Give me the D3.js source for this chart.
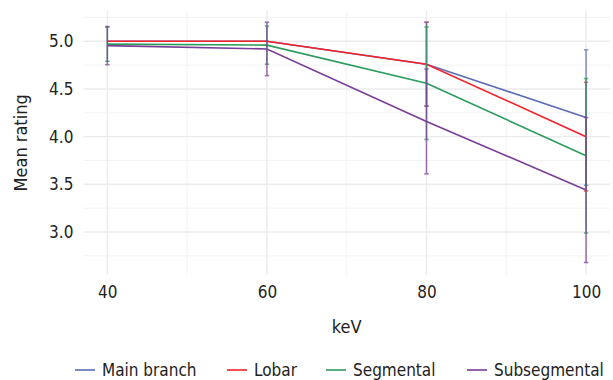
<!DOCTYPE html>
<html>
<head>
<meta charset="utf-8">
<script src="https://cdn.jsdelivr.net/npm/d3@7"></script>
<style>
  body { margin: 0; background: #fff; }
  text { font-family: "DejaVu Sans Condensed", "DejaVu Sans", sans-serif; font-stretch: condensed; fill: #222; }
</style>
</head>
<body>
<script>
// Data
var kev = [40, 60, 80, 100];
var seriesNames = ["Main branch", "Lobar", "Segmental", "Subsegmental"];
var seriesColors = ["#5c6cb8", "#f5222a", "#2b9c5c", "#7a3d98"];
var mainMean = [5.0, 5.0, 4.76, 4.20];
var mainErr = [0, 0, 0.44, 0.71];
var lobarMean = [5.0, 5.0, 4.76, 4.00];
var lobarErr = [0, 0, 0.44, 0.57];
var segMean = [4.97, 4.96, 4.56, 3.80];
var segErr = [0.18, 0.20, 0.59, 0.81];
var subMean = [4.955, 4.92, 4.16, 3.44];
var subErr = [0.20, 0.28, 0.55, 0.76];
var yTicks = [3.0, 3.5, 4.0, 4.5, 5.0];
var yMinor = [2.75, 3.25, 3.75, 4.25, 4.75, 5.25];
var xTicks = [40, 60, 80, 100];
var xMinor = [50, 70, 90];

var means = [mainMean, lobarMean, segMean, subMean];
var errs = [mainErr, lobarErr, segErr, subErr];
// error bars are layered Lobar first, so the blue bar sits on the red one
var errOrder = [1, 0, 2, 3];

var svgWidth = 613, svgHeight = 380;
var svg = d3.select("body").append("svg")
  .attr("width", svgWidth)
  .attr("height", svgHeight);

// scales (panel spans roughly x 83-610, y 11-275)
var x = d3.scaleLinear().domain([37, 103]).range([83.4, 610]);
var y = d3.scaleLinear().domain([2.55, 5.32]).range([274.9, 10.8]);

var grid = svg.append("g");
// minor grid
grid.selectAll(".ymin").data(yMinor).enter().append("line")
  .attr("x1", x(37)).attr("x2", x(103))
  .attr("y1", d => y(d)).attr("y2", d => y(d))
  .attr("stroke", "#f0f0f0").attr("stroke-width", 0.8);
grid.selectAll(".xmin").data(xMinor).enter().append("line")
  .attr("y1", y(2.55)).attr("y2", y(5.32))
  .attr("x1", d => x(d)).attr("x2", d => x(d))
  .attr("stroke", "#f0f0f0").attr("stroke-width", 0.8);
// major grid
grid.selectAll(".ymaj").data(yTicks).enter().append("line")
  .attr("x1", x(37)).attr("x2", x(103))
  .attr("y1", d => y(d)).attr("y2", d => y(d))
  .attr("stroke", "#ebebeb").attr("stroke-width", 1.4);
grid.selectAll(".xmaj").data(xTicks).enter().append("line")
  .attr("y1", y(2.55)).attr("y2", y(5.32))
  .attr("x1", d => x(d)).attr("x2", d => x(d))
  .attr("stroke", "#ebebeb").attr("stroke-width", 1.4);

// axes (labels only, no lines)
var leftAxis = d3.axisLeft(y).tickValues(yTicks).tickFormat(d3.format(".1f")).tickSize(0).tickPadding(10);
var gy = svg.append("g").attr("transform", "translate(" + x(37) + ",0)").call(leftAxis);
gy.select(".domain").remove();
gy.selectAll("text").attr("font-size", "17px").attr("fill", "#222").attr("font-family", null);

var bottomAxis = d3.axisBottom(x).tickValues(xTicks).tickSize(0).tickPadding(11);
var gx = svg.append("g").attr("transform", "translate(0," + y(2.55) + ")").call(bottomAxis);
gx.select(".domain").remove();
gx.selectAll("text").attr("font-size", "17px").attr("fill", "#222").attr("font-family", null);

// lines
var line = d3.line().x((d, i) => x(kev[i])).y(d => y(d));
svg.selectAll(".series").data(means).enter().append("path")
  .attr("d", d => line(d))
  .attr("fill", "none")
  .attr("stroke", (d, i) => seriesColors[i])
  .attr("stroke-width", 1.6);

// error bars
errOrder.forEach(function(s) {
  var m = means[s];
  var g = svg.append("g").attr("stroke", seriesColors[s]).attr("stroke-width", 1.5).attr("opacity", 0.75);
  m.forEach(function(v, i) {
    var e = errs[s][i];
    if (e <= 0) return;
    var cx = x(kev[i]);
    g.append("line").attr("x1", cx).attr("x2", cx).attr("y1", y(v + e)).attr("y2", y(v - e));
    g.append("line").attr("x1", cx - 2.2).attr("x2", cx + 2.2).attr("y1", y(v + e)).attr("y2", y(v + e));
    g.append("line").attr("x1", cx - 2.2).attr("x2", cx + 2.2).attr("y1", y(v - e)).attr("y2", y(v - e));
  });
});

// axis titles
svg.append("text")
  .attr("x", (x(37) + x(103)) / 2).attr("y", 333)
  .attr("text-anchor", "middle").attr("font-size", "18px")
  .text("keV");
svg.append("text")
  .attr("transform", "translate(27," + ((y(2.55) + y(5.32)) / 2) + ") rotate(-90)")
  .attr("text-anchor", "middle").attr("font-size", "18px")
  .text("Mean rating");

// legend
var legendX = [75, 227, 326, 467];
var legend = svg.selectAll(".legend").data(seriesNames).enter().append("g")
  .attr("transform", (d, i) => "translate(" + legendX[i] + ",370)");
legend.append("line")
  .attr("x1", 0).attr("x2", 20).attr("y1", 0).attr("y2", 0)
  .attr("stroke", (d, i) => seriesColors[i]).attr("stroke-width", 1.6);
legend.append("text")
  .attr("x", 27).attr("y", 6).attr("font-size", "17px")
  .text(d => d);
</script>
</body>
</html>
